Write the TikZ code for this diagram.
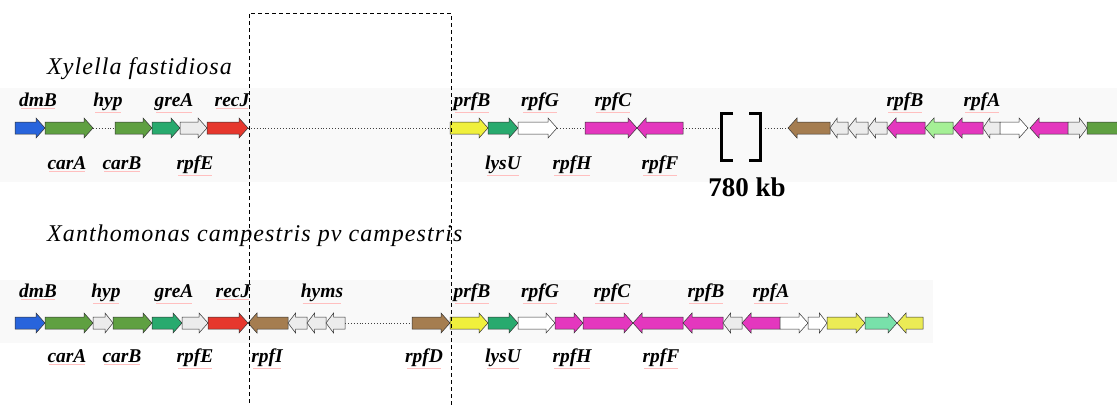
\documentclass[tikz,border=0pt]{standalone}
\usepackage{fontspec}
\setmainfont{Liberation Serif}
\definecolor{gblue}{RGB}{40,100,220}
\definecolor{ggreen}{RGB}{95,160,65}
\definecolor{gteal}{RGB}{40,170,110}
\definecolor{gwhite}{RGB}{236,236,236}
\definecolor{gred}{RGB}{230,55,45}
\definecolor{gyellow}{RGB}{240,240,60}
\definecolor{gmag}{RGB}{228,55,190}
\definecolor{gbrown}{RGB}{165,125,80}
\definecolor{glgreen}{RGB}{165,240,150}
\definecolor{gmint}{RGB}{120,225,170}
\definecolor{gyeltwo}{RGB}{235,235,85}
\newcommand{\genef}[4]{\pgfmathsetmacro\ghl{min(9,(#2-#1)/2.5)}%
  \draw[gene,fill=#4] ({#1},{#3-6}) -- ({#2-\ghl},{#3-6}) -- ({#2-\ghl},{#3-10}) -- ({#2},{#3}) -- ({#2-\ghl},{#3+10}) -- ({#2-\ghl},{#3+6}) -- ({#1},{#3+6}) -- cycle;}
\newcommand{\gener}[4]{\pgfmathsetmacro\ghl{min(9,(#2-#1)/2.5)}%
  \draw[gene,fill=#4] ({#2},{#3-6}) -- ({#1+\ghl},{#3-6}) -- ({#1+\ghl},{#3-10}) -- ({#1},{#3}) -- ({#1+\ghl},{#3+10}) -- ({#1+\ghl},{#3+6}) -- ({#2},{#3+6}) -- cycle;}
\newcommand{\glab}[4]{\node[lab] (#1) at (#2,#3) {#4};
  \draw[spell] ([xshift=2pt,yshift=-1.5pt]#1.south west) -- ([xshift=-2pt,yshift=-1.5pt]#1.south east);}
\begin{document}
\begin{tikzpicture}[x=1pt,y=-1pt,
  gene/.style={draw=black!80, line width=0.5pt, line join=miter},
  lab/.style={font=\fontsize{19.5}{19.5}\selectfont\bfseries\itshape, inner sep=0pt, anchor=base},
  spell/.style={draw=red!25, line width=0.5pt},
  gap/.style={draw=black!75, dotted, line width=0.9pt},
  title/.style={font=\fontsize{24}{24}\selectfont\itshape\addfontfeature{LetterSpace=4.5}, inner sep=0pt, anchor=base west},
]
\clip (0,0) rectangle (1117,405);
\fill[white] (0,0) rectangle (1117,405);
\fill[black!2.5] (0,88) rectangle (1117,182);
\fill[black!2.5] (0,280) rectangle (933,343);

% titles
\node[title] (t1) at (47,74) {Xylella fastidiosa};
\node[title] (t2) at (47,241) {Xanthomonas campestris pv campestris};

% ---------- row 1 ----------
\draw[gap] (93,128) -- (115,128);
\draw[gap] (248,128) -- (450,128);
\draw[gap] (557,128) -- (585,128);
\draw[gap] (683,128) -- (718,128);
\draw[gap] (765,128) -- (790,128);
\genef{15}{45}{128}{gblue}
\genef{45}{93}{128}{ggreen}
\genef{115}{152}{128}{ggreen}
\genef{152}{180}{128}{gteal}
\genef{180}{207}{128}{gwhite}
\genef{207}{248}{128}{gred}
\genef{450}{488}{128}{gyellow}
\genef{488}{518}{128}{gteal}
\genef{518}{557}{128}{white}
\genef{585}{637}{128}{gmag}
\gener{637}{683}{128}{gmag}
\gener{788}{830}{128}{gbrown}
\gener{830}{848}{128}{gwhite}
\gener{848}{868}{128}{gwhite}
\gener{868}{887}{128}{gwhite}
\gener{887}{925}{128}{gmag}
\gener{925}{953}{128}{glgreen}
\gener{953}{983}{128}{gmag}
\gener{983}{1000}{128}{gwhite}
\genef{1000}{1028}{128}{white}
\gener{1030}{1068}{128}{gmag}
\genef{1068}{1087}{128}{gwhite}
\genef{1087}{1140}{128}{ggreen}

% bracket
\draw[line width=3pt] (733,113) -- (721.5,113) -- (721.5,160) -- (733,160);
\draw[line width=3pt] (749,113) -- (760.5,113) -- (760.5,160) -- (749,160);
\node[font=\fontsize{27}{27}\selectfont\bfseries, inner sep=0pt, anchor=base] (kb) at (747,196) {780 kb};

\glab{a1}{38}{106}{dmB}
\glab{a2}{108}{106}{hyp}
\glab{a3}{174}{106}{greA}
\glab{a4}{232}{106}{recJ}
\glab{a5}{472}{106}{prfB}
\glab{a6}{540}{106}{rpfG}
\glab{a7}{613}{106}{rpfC}
\glab{a8}{905}{106}{rpfB}
\glab{a9}{982}{106}{rpfA}
\glab{b1}{67}{169}{carA}
\glab{b2}{122}{169}{carB}
\glab{b3}{195}{169}{rpfE}
\glab{b4}{503}{169}{lysU}
\glab{b5}{572}{169}{rpfH}
\glab{b6}{660}{169}{rpfF}

% ---------- row 2 ----------
\draw[gap] (345,323) -- (412,323);
\genef{15}{45}{323}{gblue}
\genef{45}{93}{323}{ggreen}
\genef{93}{113}{323}{gwhite}
\genef{113}{152}{323}{ggreen}
\genef{152}{182}{323}{gteal}
\genef{182}{208}{323}{gwhite}
\genef{208}{248}{323}{gred}
\gener{248}{288}{323}{gbrown}
\gener{288}{307}{323}{gwhite}
\gener{307}{326}{323}{gwhite}
\gener{326}{345}{323}{gwhite}
\genef{412}{450}{323}{gbrown}
\genef{450}{488}{323}{gyellow}
\genef{488}{518}{323}{gteal}
\genef{518}{555}{323}{white}
\genef{555}{583}{323}{gmag}
\genef{583}{633}{323}{gmag}
\gener{633}{683}{323}{gmag}
\gener{683}{723}{323}{gmag}
\gener{723}{742}{323}{gwhite}
\gener{742}{780}{323}{gmag}
\genef{780}{808}{323}{white}
\genef{808}{827}{323}{white}
\genef{827}{865}{323}{gyeltwo}
\genef{865}{897}{323}{gmint}
\gener{897}{923}{323}{gyeltwo}

\glab{c1}{38}{297}{dmB}
\glab{c2}{106}{297}{hyp}
\glab{c3}{174}{297}{greA}
\glab{c4}{233}{297}{recJ}
\glab{c5}{322}{297}{hyms}
\glab{c6}{472}{297}{prfB}
\glab{c7}{540}{297}{rpfG}
\glab{c8}{612}{297}{rpfC}
\glab{c9}{706}{297}{rpfB}
\glab{c10}{771}{297}{rpfA}
\glab{d1}{67}{362}{carA}
\glab{d2}{122}{362}{carB}
\glab{d3}{195}{362}{rpfE}
\glab{d4}{267}{362}{rpfI}
\glab{d5}{424}{362}{rpfD}
\glab{d6}{503}{362}{lysU}
\glab{d7}{572}{362}{rpfH}
\glab{d8}{661}{362}{rpfF}

% dashed box
\draw[dashed, line width=0.7pt, dash pattern=on 4pt off 3pt] (249,410) -- (249,13) -- (451,13) -- (451,410);
\end{tikzpicture}
\end{document}
